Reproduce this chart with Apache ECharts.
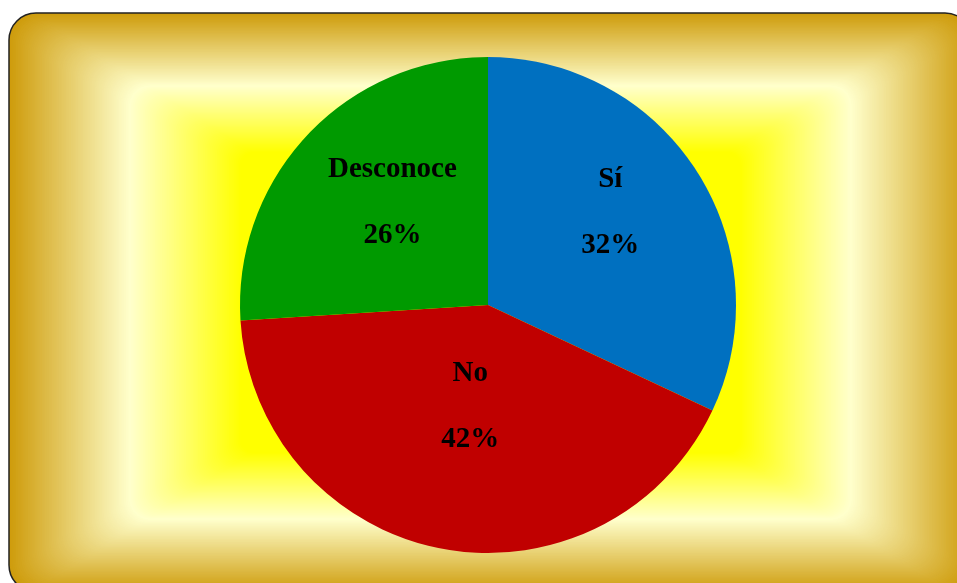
<!DOCTYPE html>
<html>
<head>
<meta charset="utf-8">
<script src="https://cdn.jsdelivr.net/npm/echarts@6/dist/echarts.min.js"></script>
<style>
  html, body { margin: 0; padding: 0; background: #ffffff; }
  #chart { width: 957px; height: 583px; }
</style>
</head>
<body>
<div id="chart"></div>
<script>
// Survey answers and their shares (percent)
const categories = ['Sí', 'No', 'Desconoce'];
const shares = [32, 42, 26];
const sliceColors = ['#0070C0', '#C00000', '#009A00'];

// Label nudges per answer, relative to the default inside position
const labelNudge = { 'Sí': [15, -24], 'No': [6, -23], 'Desconoce': [-3, -16] };

// Framed panel with a rectangular (path) gradient: gold edge -> cream -> yellow centre
const panel = { x: 9, y: 13, w: 963, h: 579, r: 27 };
const gradStops = [
  [0.00, [206, 156, 12]],
  [0.25, [255, 255, 204]],
  [0.48, [255, 255, 0]],
  [1.00, [255, 255, 0]]
];

function colorAt(t) {
  for (let i = 1; i < gradStops.length; i++) {
    const [t1, c1] = gradStops[i];
    const [t0, c0] = gradStops[i - 1];
    if (t <= t1) {
      const f = (t - t0) / (t1 - t0);
      const c = c0.map((v, k) => Math.round(v + (c1[k] - v) * f));
      return 'rgb(' + c.join(',') + ')';
    }
  }
  const last = gradStops[gradStops.length - 1][1];
  return 'rgb(' + last.join(',') + ')';
}

const panelElements = [];
const steps = 140;
const tMax = 0.5;
for (let i = 0; i <= steps; i++) {
  const t = (i / steps) * tMax;
  const hw = panel.w / 2, hh = panel.h / 2;
  panelElements.push({
    type: 'rect',
    silent: true,
    z: 0,
    shape: {
      x: panel.x + t * hw,
      y: panel.y + t * hh,
      width: panel.w * (1 - t),
      height: panel.h * (1 - t),
      r: panel.r * (1 - t)
    },
    style: {
      fill: colorAt(t),
      stroke: i === 0 ? '#222222' : null,
      lineWidth: i === 0 ? 1.5 : 0
    }
  });
}

const chart = echarts.init(document.getElementById('chart'), null, { renderer: 'canvas' });

chart.setOption({
  animation: false,
  backgroundColor: '#ffffff',
  graphic: { elements: panelElements },
  series: [{
    type: 'pie',
    z: 10,
    center: [488, 305],
    radius: 248,
    startAngle: 90,
    clockwise: true,
    silent: true,
    itemStyle: { borderWidth: 0 },
    label: {
      show: true,
      position: 'inside',
      formatter: p => p.name + '\n' + p.value + '%',
      fontFamily: 'Liberation Serif',
      fontWeight: 'bold',
      fontSize: 29,
      lineHeight: 66,
      color: '#000000',
      align: 'center'
    },
    labelLine: { show: false },
    data: categories.map((name, i) => ({
      name: name,
      value: shares[i],
      itemStyle: { color: sliceColors[i] },
      label: { offset: labelNudge[name] }
    }))
  }]
});
</script>
</body>
</html>
